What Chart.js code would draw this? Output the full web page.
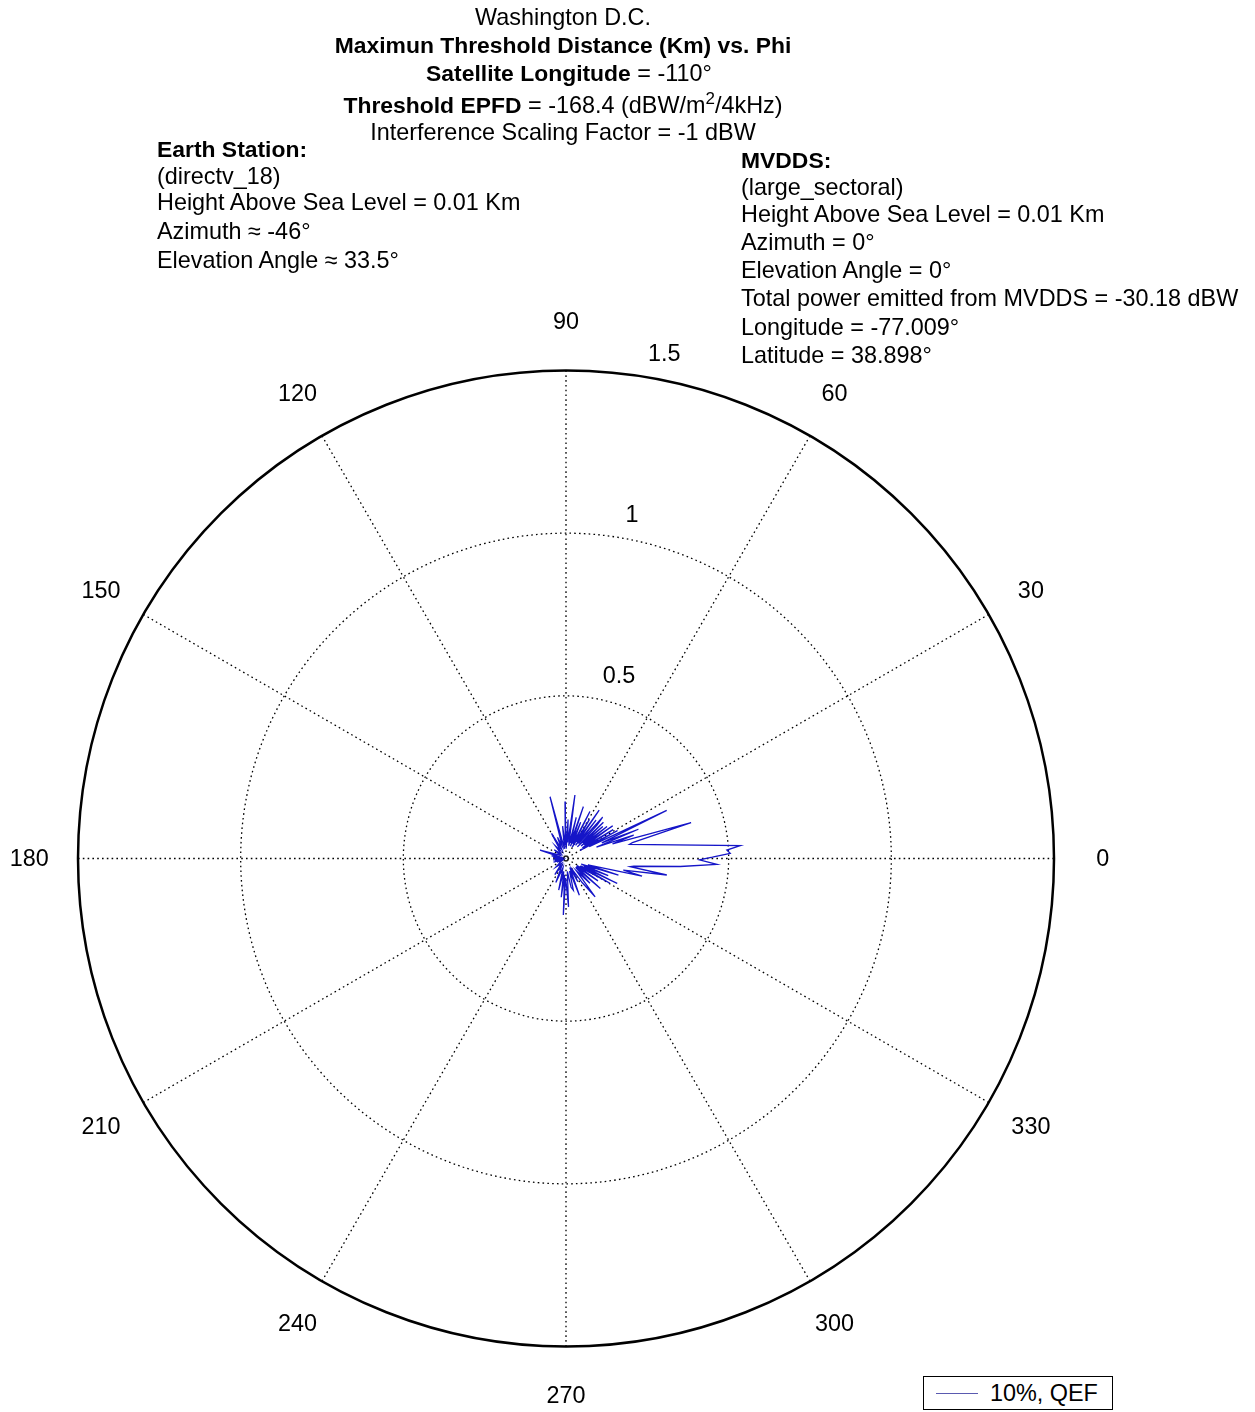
<!DOCTYPE html>
<html lang="en">
<head>
  <meta charset="UTF-8" />
  <title>Maximun Threshold Distance (Km) vs. Phi</title>
  <script src="https://cdn.jsdelivr.net/npm/chart.js"></script>
  <style>
    body { margin: 0; background: #fff; font-family: "Liberation Sans", Arial, sans-serif; color: #000; }
    #wrap { position: relative; width: 1255px; height: 1412px; overflow: hidden; }
    canvas { position: absolute; left: 0; top: 0; }
    .t { position: absolute; font-size: 23.4px; line-height: 28px; white-space: nowrap; }
    .c { left: 0; width: 1126px; text-align: center; }
    b { font-weight: bold; font-size: 22.9px; }
    sup { font-size: 17px; line-height: 0; vertical-align: 9px; }
    #legend { position: absolute; left: 923px; top: 1376px; width: 188px; height: 32px; border: 1px solid #000; background: #fff; }
    #legend .ln { position: absolute; left: 12px; top: 16px; width: 42px; border-top: 1px solid #5a5ab0; }
    #legend .tx { position: absolute; left: 66px; top: 2px; font-size: 23.4px; line-height: 28px; }
  </style>
</head>
<body>
<div id="wrap">
  <canvas id="polarChart" width="1255" height="1412"></canvas>

  <div class="t c" style="top:3px">Washington D.C.</div>
  <div class="t c" style="top:31px"><b>Maximun Threshold Distance (Km) vs. Phi</b></div>
  <div class="t c" style="top:59px; left:6px"><b>Satellite Longitude</b> = -110&deg;</div>
  <div class="t c" style="top:91px"><b>Threshold EPFD</b> = -168.4 (dBW/m<sup>2</sup>/4kHz)</div>
  <div class="t c" style="top:118px">Interference Scaling Factor = -1 dBW</div>

  <div class="t" style="left:157px; top:135px"><b>Earth Station:</b></div>
  <div class="t" style="left:157px; top:162px">(directv_18)</div>
  <div class="t" style="left:157px; top:188px">Height Above Sea Level = 0.01 Km</div>
  <div class="t" style="left:157px; top:217px">Azimuth &asymp; -46&deg;</div>
  <div class="t" style="left:157px; top:246px">Elevation Angle &asymp; 33.5&deg;</div>

  <div class="t" style="left:741px; top:146px"><b>MVDDS:</b></div>
  <div class="t" style="left:741px; top:173px">(large_sectoral)</div>
  <div class="t" style="left:741px; top:200px">Height Above Sea Level = 0.01 Km</div>
  <div class="t" style="left:741px; top:228px">Azimuth = 0&deg;</div>
  <div class="t" style="left:741px; top:256px">Elevation Angle = 0&deg;</div>
  <div class="t" style="left:741px; top:284px">Total power emitted from MVDDS = -30.18 dBW</div>
  <div class="t" style="left:741px; top:313px">Longitude = -77.009&deg;</div>
  <div class="t" style="left:741px; top:341px">Latitude = 38.898&deg;</div>

  <div id="legend"><div class="ln"></div><div class="tx">10%, QEF</div></div>
</div>

<script>
  // Phi (deg) and max threshold distance (Km)
  const phiDeg = [
    0.5, 1.8, 3.0, 4.2, 12.5, 13.5, 16, 17.5, 19, 20.5, 22, 23.5, 25.5, 27, 28.5, 30,
    31.5, 33, 35, 36.5, 38, 39.5, 41, 42.5, 44, 45.5, 47, 48.5, 50, 52, 54, 55.5,
    57, 59, 61, 63, 65, 68, 70, 71.5, 74, 76, 78, 82, 84, 87, 89, 91,
    93, 96, 99, 104.5, 107, 112, 115, 120, 125, 130, 137, 143, 150, 158,
    162, 165, 170, 172, 175, 178, 181, 183, 186, 188, 191, 193, 196, 198, 202, 205,
    212, 220, 228, 235, 240, 247, 252, 257, 260, 263, 265, 267.3, 269, 273, 276, 280,
    283, 286, 290, 293, 297, 300, 304, 307.2, 310, 314, 317, 319, 322, 325, 327, 330.6,
    333, 334, 336, 338, 340, 342.5, 344, 347, 348.5, 350.7, 352.7, 353.5, 356, 357.8, 359.4
  ];
  const distKm = [
    0.45, 0.505, 0.495, 0.537, 0.2, 0.21, 0.40, 0.15, 0.22, 0.10, 0.24, 0.12, 0.343, 0.08, 0.18, 0.05,
    0.17, 0.06, 0.175, 0.07, 0.16, 0.06, 0.15, 0.07, 0.16, 0.05, 0.14, 0.17, 0.06, 0.15, 0.05, 0.18,
    0.06, 0.14, 0.04, 0.162, 0.05, 0.12, 0.04, 0.168, 0.05, 0.13, 0.04, 0.197, 0.05, 0.12, 0.03, 0.175,
    0.04, 0.10, 0.03, 0.196, 0.04, 0.07, 0.03, 0.089, 0.03, 0.05, 0.02, 0.045, 0.02, 0.04,
    0.084, 0.02, 0.045, 0.01, 0.04, 0.01, 0.035, 0.008, 0.04, 0.01, 0.035, 0.008, 0.04, 0.01, 0.03, 0.01,
    0.02, 0.04, 0.02, 0.06, 0.025, 0.08, 0.03, 0.10, 0.04, 0.12, 0.05, 0.174, 0.06, 0.149, 0.04, 0.09,
    0.10, 0.04, 0.12, 0.03, 0.08, 0.04, 0.09, 0.148, 0.05, 0.106, 0.04, 0.14, 0.04, 0.12, 0.04, 0.155,
    0.05, 0.175, 0.06, 0.14, 0.05, 0.169, 0.07, 0.24, 0.18, 0.314, 0.199, 0.21, 0.352, 0.464, 0.41
  ];
  const angleTicks = [0, 30, 60, 90, 120, 150, 180, 210, 240, 270, 300, 330];
  const radiusTicks = [0.5, 1, 1.5];
  const rMax = 1.5;

  const points = phiDeg.map((p, i) => ({
    x: distKm[i] * Math.cos(p * Math.PI / 180),
    y: distKm[i] * Math.sin(p * Math.PI / 180)
  }));
  points.push(points[0]);

  const dotted = [1.6, 3.2];

  const polarGrid = {
    id: 'polarGrid',
    beforeDatasetsDraw(chart) {
      const ctx = chart.ctx;
      const xs = chart.scales.x, ys = chart.scales.y;
      const cx = xs.getPixelForValue(0), cy = ys.getPixelForValue(0);
      const k = xs.getPixelForValue(1) - cx;
      ctx.save();
      ctx.strokeStyle = '#000';
      ctx.lineWidth = 1.3;
      ctx.setLineDash(dotted);
      // rings
      radiusTicks.slice(0, -1).forEach(r => {
        ctx.beginPath();
        ctx.arc(cx, cy, r * k, 0, Math.PI * 2);
        ctx.stroke();
      });
      // spokes
      for (let a = 0; a < 180; a += 30) {
        const t = a * Math.PI / 180;
        ctx.beginPath();
        ctx.moveTo(cx - rMax * k * Math.cos(t), cy + rMax * k * Math.sin(t));
        ctx.lineTo(cx + rMax * k * Math.cos(t), cy - rMax * k * Math.sin(t));
        ctx.stroke();
      }
      ctx.setLineDash([]);
      // outer circle
      ctx.lineWidth = 2.5;
      ctx.beginPath();
      ctx.arc(cx, cy, rMax * k, 0, Math.PI * 2);
      ctx.stroke();

      ctx.fillStyle = '#000';
      ctx.font = '23.4px "Liberation Sans", Arial, sans-serif';
      // angle labels
      ctx.textAlign = 'center';
      ctx.textBaseline = 'middle';
      angleTicks.forEach(a => {
        const t = a * Math.PI / 180;
        ctx.fillText(String(a), cx + 1.1 * rMax * k * Math.cos(t), cy - 1.1 * rMax * k * Math.sin(t) + 1);
      });
      // radius labels
      ctx.textAlign = 'left';
      ctx.textBaseline = 'bottom';
      const t82 = 82 * Math.PI / 180;
      radiusTicks.forEach(r => {
        const rr = r + 0.025;
        ctx.fillText('  ' + r, cx + rr * k * Math.cos(t82), cy - rr * k * Math.sin(t82) - 1);
      });
      ctx.restore();
    }
  };

  new Chart(document.getElementById('polarChart'), {
    type: 'scatter',
    data: {
      datasets: [{
        label: '10%, QEF',
        data: points,
        showLine: true,
        borderColor: '#1515c8',
        borderWidth: 1.3,
        pointRadius: 0,
        tension: 0,
        fill: false
      }]
    },
    options: {
      responsive: false,
      animation: false,
      layout: { padding: { left: 78, top: 370.5, right: 201, bottom: 65.5 } },
      scales: {
        x: { type: 'linear', min: -rMax, max: rMax, display: false },
        y: { type: 'linear', min: -rMax, max: rMax, display: false }
      },
      plugins: {
        legend: { display: false },
        tooltip: { enabled: false }
      }
    },
    plugins: [polarGrid]
  });
</script>
</body>
</html>
